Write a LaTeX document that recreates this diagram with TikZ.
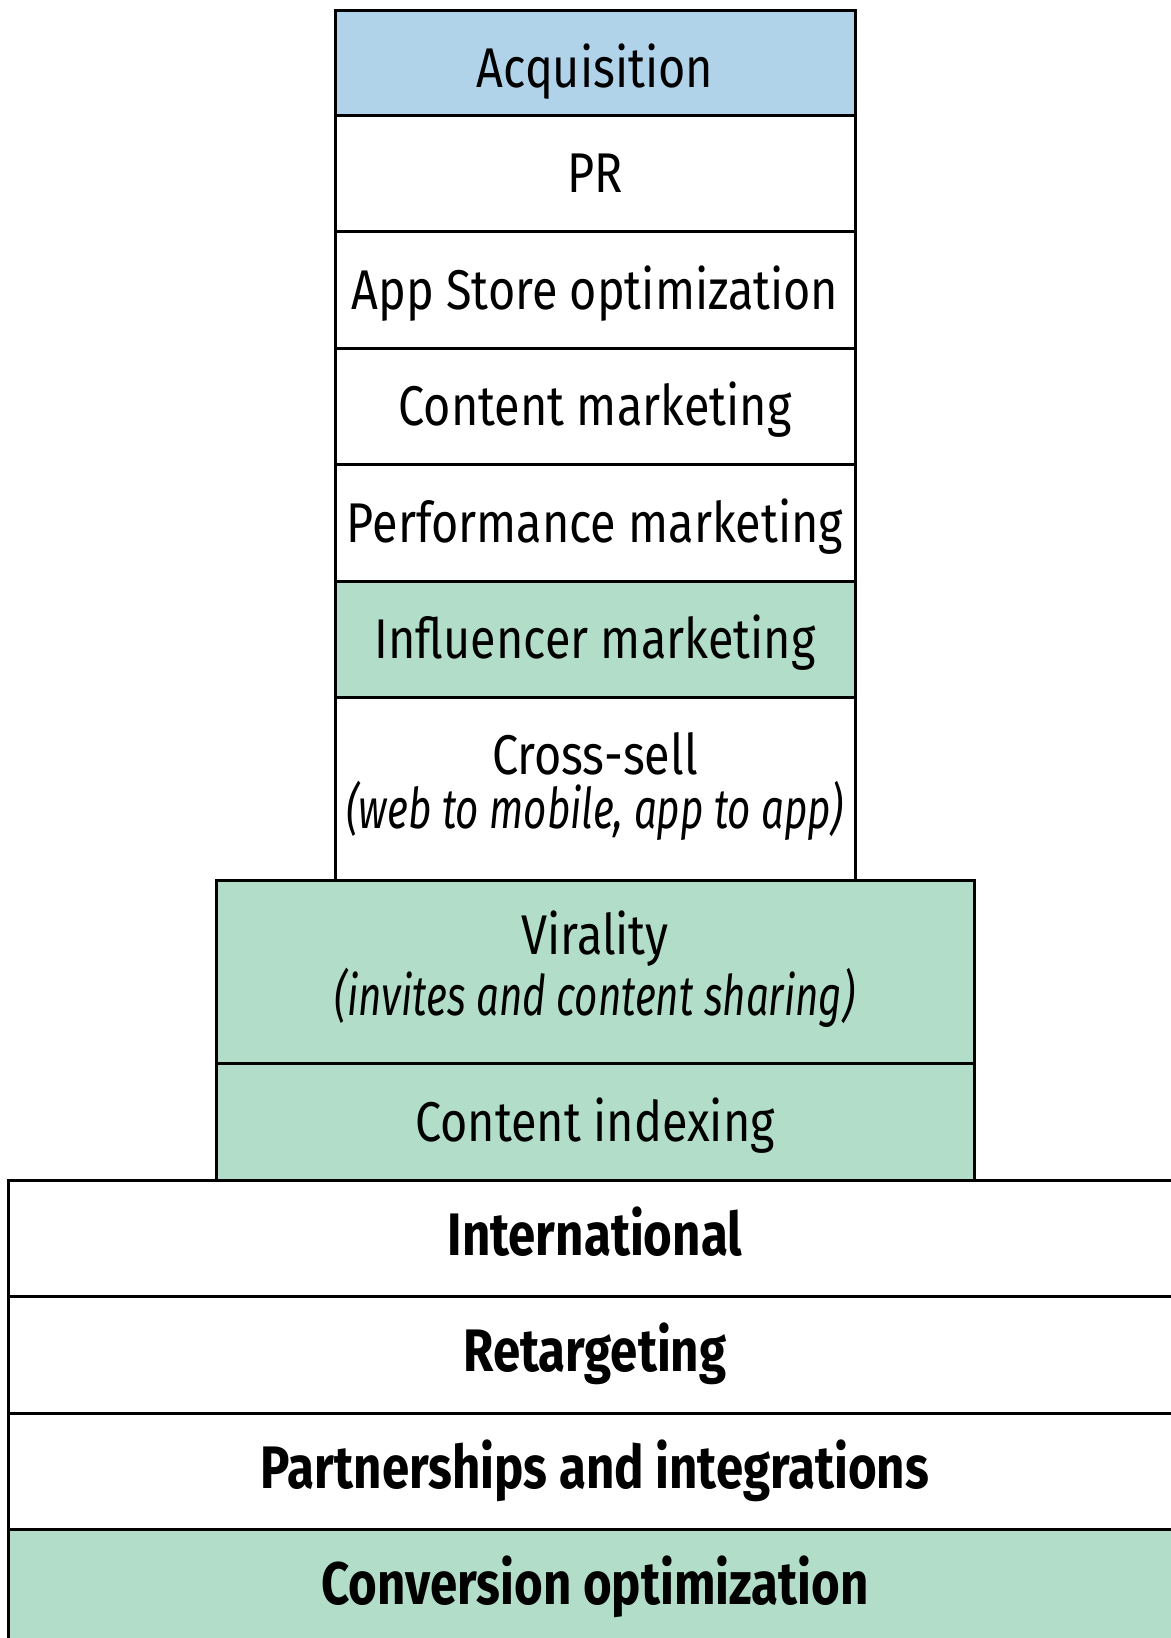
\documentclass[tikz,border=0pt]{standalone}
\usepackage{fontspec}
\setmainfont{Fira Sans}[
	UprightFeatures={FakeStretch=0.835},
	ItalicFeatures={FakeStretch=0.72},
	BoldFeatures={FakeStretch=0.82}]
\usetikzlibrary{positioning}
\definecolor{acqblue}{RGB}{176,211,234}
\definecolor{chgreen}{RGB}{178,222,201}
\begin{document}
\begin{tikzpicture}[
		x=0.5pt, y=0.5pt,
		layer/.style={draw, line width=1.5pt, rectangle, outer sep=0pt, inner sep=0pt,
				align=center, text height=19.3pt, text depth=0pt,
				font=\fontsize{28}{27}\selectfont, minimum height=58.25pt},
		narrow/.style={layer, minimum width=260pt},
		mid/.style={layer, minimum width=379pt, fill=chgreen},
		wide/.style={layer, minimum width=587pt, text height=17.2pt,
				font=\fontsize{30}{28}\selectfont\bfseries},
		tall/.style={minimum height=91.5pt, text height=, text depth=9pt}
	]
	\useasboundingbox (0,0) rectangle (1171,-1638);
	\clip (0,0) rectangle (1171,-1638);
	% top column
	\node[narrow, fill=acqblue, minimum height=52.5pt, text height=24.5pt,
		anchor=north] (acq) at (595,-10) {Acquisition};
	\node[narrow, below=0pt of acq] (pr) {PR};
	\node[narrow, below=0pt of pr] (aso) {App Store optimization};
	\node[narrow, below=0pt of aso] (content) {Content marketing};
	\node[narrow, below=0pt of content] (perf) {Performance marketing};
	\node[narrow, fill=chgreen, below=0pt of perf] (influencer) {Influencer marketing};
	\node[narrow, tall, below=0pt of influencer] (crosssell) {Cross-sell\\\textit{(web to mobile, app to app)}};
	% middle column
	\node[mid, tall, below=0pt of crosssell] (virality) {Virality\\\textit{(invites and content sharing)}};
	\node[mid, below=0pt of virality] (indexing) {Content indexing};
	% bottom column
	\node[wide, below=0pt of indexing] (intl) {International};
	\node[wide, below=0pt of intl] (retarget) {Retargeting};
	\node[wide, below=0pt of retarget] (partners) {Partnerships and integrations};
	\node[wide, fill=chgreen, below=0pt of partners] (conversion) {Conversion optimization};
\end{tikzpicture}
\end{document}
